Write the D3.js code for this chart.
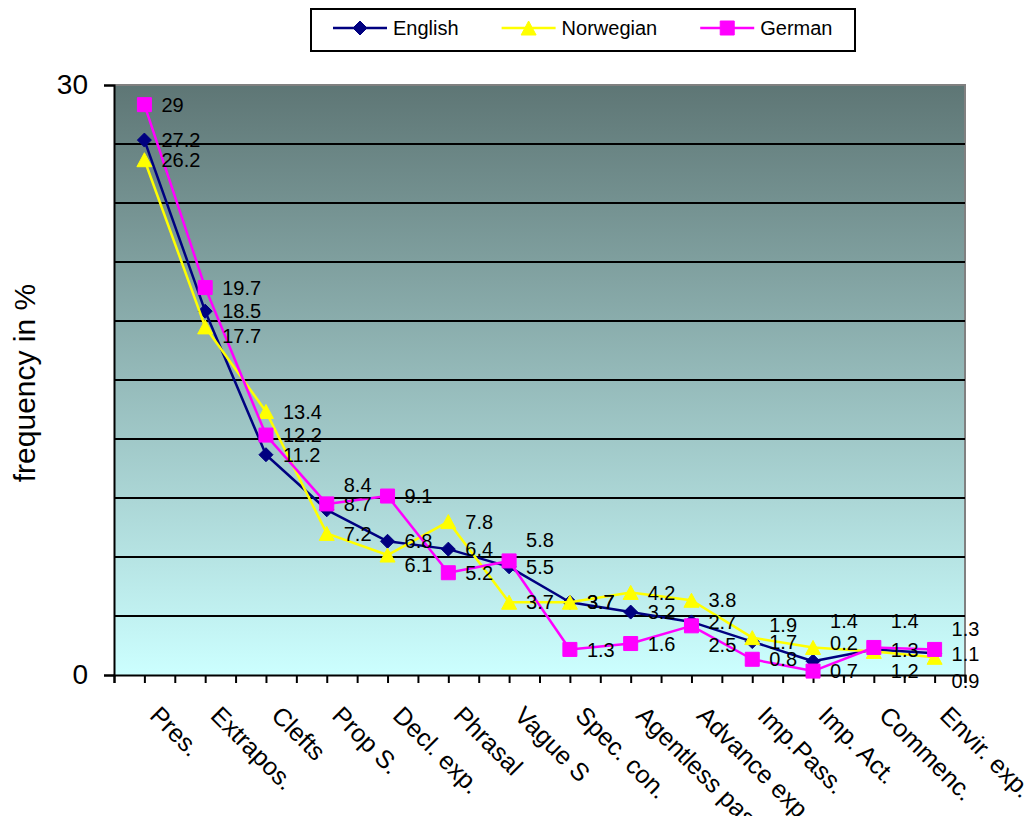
<!DOCTYPE html>
<html>
<head>
<meta charset="utf-8">
<script src="https://cdn.jsdelivr.net/npm/d3@7"></script>
<style>
  body { margin: 0; background: #fff; }
  svg { display: block; }
  text { font-family: Arial, "Liberation Sans", sans-serif; fill: #000; }
</style>
</head>
<body>
<svg id="chart" width="1034" height="816"></svg>
<script>
// Construction types on the category axis
const categories = ["Pres.", "Extrapos.", "Clefts", "Prop S.", "Decl. exp.", "Phrasal", "Vague S",
  "Spec. con.", "Agentless pass.", "Advance exp.", "Imp.Pass.", "Imp. Act.", "Commenc.", "Envir. exp."];

// Frequency (%) per construction, one array per language
const english   = [27.2, 18.5, 11.2, 8.4, 6.8, 6.4, 5.5, 3.7, 3.2, 2.7, 1.7, 0.7, 1.3, 1.1];
const norwegian = [26.2, 17.7, 13.4, 7.2, 6.1, 7.8, 3.7, 3.7, 4.2, 3.8, 1.9, 1.4, 1.2, 0.9];
const german    = [29, 19.7, 12.2, 8.7, 9.1, 5.2, 5.8, 1.3, 1.6, 2.5, 0.8, 0.2, 1.4, 1.3];

const seriesNames = ["English", "Norwegian", "German"];
const yTickValues = [0, 30];
const yTitle = "frequency in %";

// ---- layout / styling ----
const W = 1034, H = 816;
const plot = { left: 114, right: 965, top: 85, bottom: 675 };
const colors = { English: "#000080", Norwegian: "#FFFF00", German: "#FF00FF" };
const markerPath = {
  English: "M0,-7L7,0L0,7L-7,0Z",
  Norwegian: "M0,-7L7.5,7L-7.5,7Z",
  German: "M-7,-7H7V7H-7Z"
};
// vertical nudges (px) for data labels that would otherwise collide
const labelNudge = {
  English:   { 3: -25, 11: 10 },
  Norwegian: { 1: 9, 4: 10, 10: -13, 11: -27, 12: 19, 13: 23 },
  German:    { 6: -21, 9: 19, 11: -28, 12: -27, 13: -21 }
};

const series = [
  { name: "English", values: english },
  { name: "Norwegian", values: norwegian },
  { name: "German", values: german }
];

const svg = d3.select("#chart");

const x = d3.scaleBand().domain(categories).range([plot.left, plot.right]).padding(0);
const cx = c => x(c) + x.bandwidth() / 2;
const y = d3.scaleLinear().domain([0, 30]).range([plot.bottom, plot.top]);

// plot-area gradient fill
const defs = svg.append("defs");
const grad = defs.append("linearGradient").attr("id", "bg")
  .attr("x1", 0).attr("y1", 0).attr("x2", 0).attr("y2", 1);
grad.append("stop").attr("offset", "0%").attr("stop-color", "#5E7675");
grad.append("stop").attr("offset", "100%").attr("stop-color", "#CCFFFF");

svg.append("rect")
  .attr("x", plot.left).attr("y", plot.top)
  .attr("width", plot.right - plot.left).attr("height", plot.bottom - plot.top)
  .attr("fill", "url(#bg)");

// top and right border of plot area
svg.append("path")
  .attr("d", `M${plot.left},${plot.top}H${plot.right}V${plot.bottom}`)
  .attr("fill", "none").attr("stroke", "#808080").attr("stroke-width", 2);

// minor gridlines every 3 units
const gridValues = d3.range(3, 30, 3);
svg.append("g").selectAll("line").data(gridValues).join("line")
  .attr("x1", plot.left).attr("x2", plot.right)
  .attr("y1", d => y(d)).attr("y2", d => y(d))
  .attr("stroke", "#000").attr("stroke-width", 2);

// y axis
const yAxis = svg.append("g").attr("transform", `translate(${plot.left},0)`)
  .call(d3.axisLeft(y).tickValues(yTickValues).tickSize(10).tickPadding(16).tickFormat(d3.format("d")));
yAxis.select(".domain").attr("stroke", "#000").attr("stroke-width", 2);
yAxis.selectAll(".tick line").attr("stroke", "#000").attr("stroke-width", 2);
yAxis.selectAll(".tick text").attr("font-size", 28).attr("font-family", "Arial, 'Liberation Sans', sans-serif");

// y axis title
svg.append("text")
  .attr("transform", `translate(35,383) rotate(-90)`)
  .attr("text-anchor", "middle")
  .attr("font-size", 30)
  .text(yTitle);

// x axis: ticks at category centers and boundaries
const tickScale = d3.scaleLinear().domain([0, categories.length * 2]).range([plot.left, plot.right]);
const xAxis = svg.append("g").attr("transform", `translate(0,${plot.bottom})`)
  .call(d3.axisBottom(tickScale).tickValues(d3.range(0, categories.length * 2 + 1)).tickSize(8).tickFormat(""));
xAxis.select(".domain").attr("stroke", "#000").attr("stroke-width", 2);
xAxis.selectAll(".tick line").attr("stroke", "#000").attr("stroke-width", 2);

// rotated category labels
svg.append("g").selectAll("text").data(categories).join("text")
  .attr("transform", d => `translate(${cx(d) + 4},${plot.bottom + 42}) rotate(45)`)
  .attr("text-anchor", "start")
  .attr("font-size", 25)
  .text(d => d);

// series lines and markers
const line = d3.line().x((d, i) => cx(categories[i])).y(d => y(d));
series.forEach(s => {
  const g = svg.append("g");
  g.append("path").datum(s.values)
    .attr("d", line)
    .attr("fill", "none").attr("stroke", colors[s.name]).attr("stroke-width", 2.5)
    .attr("stroke-linejoin", "round");
  g.selectAll("path.m").data(s.values).join("path").attr("class", "m")
    .attr("d", markerPath[s.name])
    .attr("transform", (d, i) => `translate(${cx(categories[i])},${y(d)})`)
    .attr("fill", colors[s.name]).attr("stroke", colors[s.name]).attr("stroke-width", 1);
});

// data labels
series.forEach(s => {
  svg.append("g").selectAll("text").data(s.values).join("text")
    .attr("x", (d, i) => cx(categories[i]) + 17)
    .attr("y", (d, i) => y(d) + (labelNudge[s.name][i] || 0))
    .attr("dy", "0.36em")
    .attr("font-size", 20)
    .text(d => d);
});

// legend
const legend = svg.append("g");
legend.append("rect")
  .attr("x", 311).attr("y", 9).attr("width", 544).attr("height", 42)
  .attr("fill", "#fff").attr("stroke", "#000").attr("stroke-width", 2);
let lx = 333;
const ly = 28;
seriesNames.forEach(name => {
  const item = legend.append("g");
  item.append("line").attr("x1", lx).attr("x2", lx + 54).attr("y1", ly).attr("y2", ly)
    .attr("stroke", colors[name]).attr("stroke-width", 2.5);
  item.append("path").attr("d", markerPath[name])
    .attr("transform", `translate(${lx + 27},${ly})`)
    .attr("fill", colors[name]).attr("stroke", colors[name]);
  const t = item.append("text").attr("x", lx + 60).attr("y", ly).attr("dy", "0.36em")
    .attr("font-size", 20).text(name);
  lx += 60 + t.node().getComputedTextLength() + 43;
});
</script>
</body>
</html>
